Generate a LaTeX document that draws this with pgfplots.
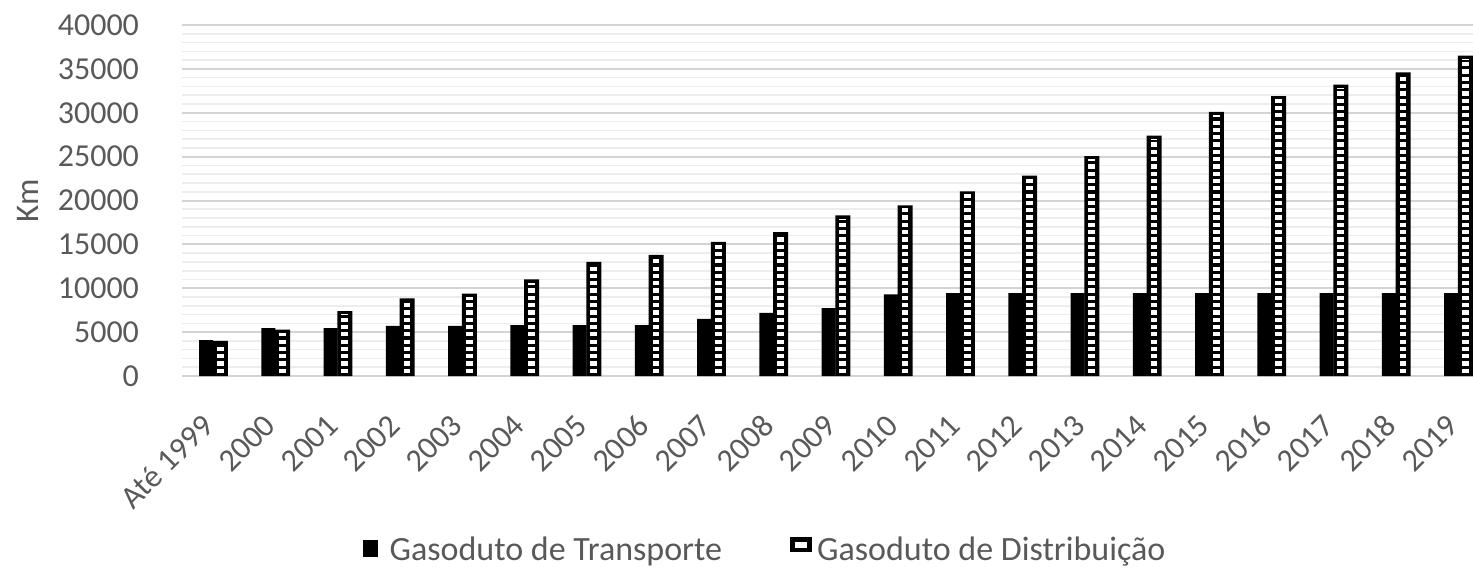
\documentclass[border=0pt]{standalone}
\usepackage{fontspec}
\setmainfont{Carlito}
\usepackage{pgfplots}
\pgfplotsset{compat=1.18}
\usepackage{pgfplotstable}
\definecolor{txtgrey}{HTML}{595959}
\definecolor{majgrid}{HTML}{D4D4D4}
\definecolor{mingrid}{HTML}{EDEDED}

\pgfplotstableread{
x t d
0 4100 4000
1 5450 5300
2 5450 7400
3 5700 8850
4 5700 9400
5 5800 11000
6 5800 13000
7 5800 13800
8 6500 15300
9 7200 16400
10 7750 18300
11 9300 19450
12 9450 21050
13 9450 22850
14 9450 25050
15 9450 27400
16 9450 30100
17 9450 31900
18 9450 33200
19 9450 34600
20 9450 36500
}\data

\begin{document}
\begin{tikzpicture}
\begin{axis}[
  at={(0,0)}, anchor=south west,
  scale only axis, width=645.5pt, height=175.5pt,
  xmin=-0.5, xmax=20.24, ymin=0, ymax=40000,
  ytick={0,5000,...,40000},
  minor y tick num=4,
  ymajorgrids, yminorgrids,
  major grid style={draw=majgrid, line width=1pt},
  minor grid style={draw=mingrid, line width=0.8pt},
  axis line style={draw=none},
  major tick length=0pt, minor tick length=0pt,
  xtick={0,...,20},
  xticklabels={Até 1999,2000,2001,2002,2003,2004,2005,2006,2007,2008,2009,2010,2011,2012,2013,2014,2015,2016,2017,2018,2019},
  tick label style={text=txtgrey, font=\fontsize{16}{19}\selectfont},
  xticklabel style={yshift=-22pt, xshift=-2.5pt, rotate=45, anchor=east, inner sep=0pt},
  yticklabel style={xshift=-18pt},
  /pgf/number format/1000 sep={},
  /pgf/number format/assume math mode=true,
  scaled y ticks=false,
  ylabel={Km},
  ylabel style={at={(axis description cs:-0.1193,0.5)}, anchor=center, text=txtgrey, font=\fontsize{16.5}{19}\selectfont},
  legend style={at={(0.4524,-0.4957)}, anchor=center, draw=none, fill=none, legend columns=2, font=\fontsize{17}{20}\selectfont, text=txtgrey, /tikz/every even column/.append style={column sep=32pt}},
]
\addplot[ybar, bar width=7pt, bar shift=-3.5pt, fill=black, draw=none,
  legend image code/.code={\fill[black] (0pt,-3.5pt) rectangle (7.5pt,5pt); \path (11.5pt,0pt);}]
  table[x=x,y=t]{\data};
\addlegendentry{Gasoduto de Transporte}
\addplot[ybar, bar width=7.5pt, bar shift=3.6pt, fill=black, draw=none,
  legend image code/.code={\fill[black] (0pt,-1pt) rectangle (10.8pt,6.5pt); \fill[white] (2.5pt,1pt) rectangle (8.3pt,4.1pt); \path (11.5pt,0pt);}]
  table[x=x,y=d]{\data};
\addlegendentry{Gasoduto de Distribuição}
\addplot[ycomb, draw=white, line width=3.4pt, dash pattern=on 2.1pt off 1.55pt, dash phase=2.1pt, forget plot]
  table[x expr=\thisrow{x}+0.1157, y expr=\thisrow{d}-350]{\data};
\end{axis}
\pgfresetboundingbox
\path[use as bounding box] (-91pt,-96.5pt) rectangle (645.5pt,188pt);
\end{tikzpicture}
\end{document}
